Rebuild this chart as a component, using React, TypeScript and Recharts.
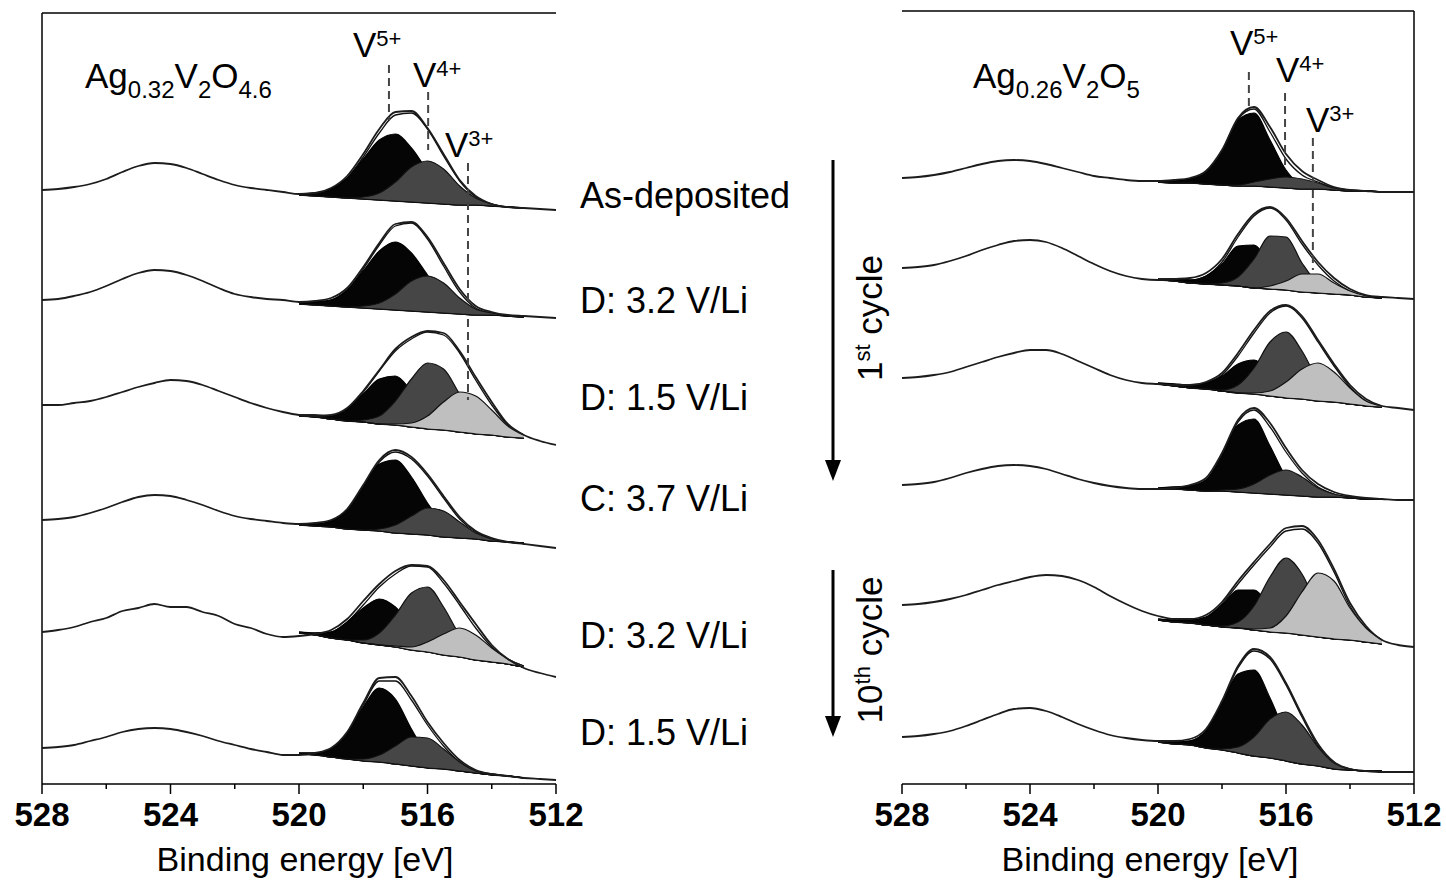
import React from 'react';
import { ComposedChart, Area, Line, XAxis, YAxis, ReferenceLine } from 'recharts';

const FONT = '"Liberation Sans", Arial, Helvetica, sans-serif';

// binding energy grid (eV), plotted high -> low
const ENERGIES = [528, 527.5, 527, 526.5, 526, 525.5, 525, 524.5, 524, 523.5, 523, 522.5, 522, 521.5, 521, 520.5, 520,
  519.5, 519, 518.5, 518, 517.5, 517, 516.5, 516, 515.5, 515, 514.5, 514, 513.5, 513, 512.5, 512];
// grid of the fitted V 2p3/2 region
const FIT_ENERGIES = [520, 519.5, 519, 518.5, 518, 517.5, 517, 516.5, 516, 515.5, 515, 514.5, 514, 513.5, 513];
const AXIS_TICKS = [528, 526, 524, 522, 520, 518, 516, 514, 512];
const MAJOR_TICKS = [528, 524, 520, 516, 512];
const STATES = ['As-deposited', 'D: 3.2 V/Li', 'D: 1.5 V/Li', 'C: 3.7 V/Li', 'D: 3.2 V/Li', 'D: 1.5 V/Li'];

// ---- left panel: Ag0.32V2O4.6 (intensity, a.u.) ----
const LEFT_OFFSETS = [594, 484, 379, 264, 152, 36];
const LEFT_MEASURED = [
  [0, 1, 3, 6, 11, 18, 24, 27, 26, 22, 16, 10, 5, 2, 0, -2, -4, -3, 2, 14, 36, 61, 78, 79, 62, 36, 10, -6, -14, -17, -18, -19, -20],
  [0, 1, 4, 8, 14, 21, 27, 30, 29, 25, 19, 12, 6, 3, 1, 0, -2, -1, 2, 12, 33, 57, 76, 78, 63, 37, 11, -6, -12, -15, -16, -17, -18],
  [0, 0, 2, 4, 8, 13, 18, 22, 25, 24, 20, 14, 8, 2, -3, -7, -10, -11, -10, -3, 14, 35, 56, 68, 74, 72, 54, 28, 3, -19, -30, -36, -40],
  [0, 1, 3, 7, 12, 18, 23, 25, 24, 20, 15, 9, 4, 1, -1, -3, -4, -3, 0, 11, 35, 60, 70, 63, 46, 24, 3, -11, -18, -22, -24, -26, -28],
  [0, 2, 5, 10, 14, 21, 24, 28, 25, 25, 20, 16, 8, 4, -2, -5, -4, -2, 2, 13, 31, 48, 61, 67, 66, 52, 30, 8, -13, -27, -36, -41, -45],
  [0, 1, 3, 7, 11, 16, 19, 20, 19, 16, 12, 7, 3, -1, -4, -7, -7, -5, 0, 16, 45, 70, 71, 52, 26, 5, -12, -22, -26, -28, -30, -31, -32],
];
const LEFT_BG = [
  [-5, -6, -7, -8, -9, -10, -11, -12, -13, -14, -15, -15, -16, -17, -18],
  [-4, -5, -6, -7, -8, -9, -10, -11, -12, -13, -14, -15, -15, -16, -17],
  [-11, -12, -14, -16, -17, -19, -20, -22, -24, -25, -27, -29, -30, -32, -33],
  [-5, -6, -7, -9, -10, -11, -13, -14, -15, -17, -18, -19, -21, -22, -23],
  [-1, -3, -6, -8, -11, -13, -15, -18, -20, -23, -25, -28, -30, -32, -35],
  [-6, -7, -9, -11, -13, -14, -16, -18, -20, -21, -23, -25, -27, -28, -30],
];
const LEFT_V5 = [
  [1, 3, 8, 20, 40, 60, 67, 54, 32, 13, 5, 1, 0, 0, 0],
  [1, 3, 6, 17, 37, 58, 68, 58, 37, 17, 6, 1, 0, 0, 0],
  [1, 2, 3, 12, 28, 45, 49, 36, 18, 6, 1, 0, 0, 0, 0],
  [1, 2, 6, 19, 43, 67, 73, 57, 32, 13, 3, 1, 0, 0, 0],
  [1, 2, 6, 18, 35, 46, 40, 24, 10, 3, 1, 0, 0, 0, 0],
  [1, 2, 8, 26, 54, 74, 65, 37, 13, 3, 0, 0, 0, 0, 0],
];
const LEFT_V4 = [
  [0, 0, 0, 0, 2, 7, 19, 35, 42, 35, 19, 7, 2, 0, 0],
  [0, 0, 0, 0, 2, 6, 16, 30, 36, 30, 16, 6, 2, 0, 0],
  [0, 0, 0, 0, 2, 8, 24, 48, 66, 61, 38, 16, 5, 1, 0],
  [0, 0, 0, 0, 0, 2, 8, 18, 27, 26, 16, 6, 2, 0, 0],
  [0, 0, 0, 0, 3, 12, 32, 57, 65, 48, 22, 7, 1, 0, 0],
  [0, 0, 0, 0, 2, 7, 18, 29, 30, 20, 9, 2, 1, 0, 0],
];
const LEFT_V3 = [
  null,
  null,
  [0, 0, 0, 0, 0, 0, 1, 4, 13, 28, 40, 38, 25, 11, 3],
  null,
  [0, 0, 0, 0, 0, 0, 1, 3, 10, 21, 29, 25, 14, 5, 1],
  null,
];

// ---- right panel: Ag0.26V2O5 (intensity, a.u.) ----
const RIGHT_OFFSETS = [606, 516, 406, 299, 179, 47];
const RIGHT_MEASURED = [
  [0, 1, 3, 6, 10, 14, 17, 18, 17, 14, 10, 6, 2, 0, -2, -3, -3, -2, 0, 7, 28, 60, 71, 51, 24, 7, -2, -9, -12, -13, -14, -14, -14],
  [0, 1, 3, 7, 12, 18, 23, 27, 28, 26, 20, 12, 4, -3, -8, -11, -12, -11, -10, -5, 9, 34, 54, 61, 50, 27, 6, -10, -21, -27, -29, -30, -31],
  [0, 1, 3, 6, 11, 16, 21, 25, 28, 28, 24, 17, 10, 3, -2, -5, -6, -7, -7, -4, 5, 25, 48, 67, 73, 62, 38, 14, -7, -21, -28, -30, -32],
  [0, 1, 3, 7, 12, 16, 19, 20, 19, 16, 11, 6, 2, -1, -3, -4, -4, -3, 0, 7, 32, 65, 77, 62, 37, 15, 1, -7, -11, -13, -14, -15, -15],
  [0, 1, 3, 6, 10, 15, 20, 24, 28, 30, 29, 25, 18, 9, 1, -6, -11, -14, -14, -10, 3, 24, 43, 61, 77, 79, 65, 36, 2, -21, -35, -40, -42],
  [0, 1, 3, 6, 11, 17, 23, 28, 29, 26, 20, 13, 7, 2, -1, -3, -4, -4, -2, 8, 36, 71, 88, 80, 54, 22, -7, -25, -32, -34, -35, -35, -35],
];
const RIGHT_BG = [
  [-4, -5, -5, -6, -7, -8, -8, -9, -10, -11, -11, -12, -13, -13, -14],
  [-12, -13, -15, -16, -17, -18, -20, -21, -22, -24, -25, -26, -27, -29, -30],
  [-6, -8, -10, -11, -13, -15, -16, -18, -20, -21, -23, -24, -26, -28, -29],
  [-4, -4, -5, -6, -6, -7, -8, -9, -10, -11, -12, -12, -13, -14, -14],
  [-15, -17, -18, -20, -22, -23, -25, -27, -28, -30, -32, -34, -35, -37, -39],
  [-5, -7, -8, -11, -13, -16, -19, -21, -24, -27, -29, -32, -33, -34, -34],
];
const RIGHT_V5 = [
  [1, 2, 4, 12, 34, 66, 73, 47, 18, 4, 1, 0, 0, 0, 0],
  [1, 2, 3, 8, 21, 40, 43, 25, 8, 1, 0, 0, 0, 0, 0],
  [1, 2, 3, 6, 15, 29, 34, 24, 10, 3, 0, 0, 0, 0, 0],
  [1, 2, 4, 11, 35, 67, 74, 48, 18, 4, 1, 0, 0, 0, 0],
  [1, 2, 3, 8, 22, 38, 40, 26, 10, 2, 0, 0, 0, 0, 0],
  [1, 2, 4, 17, 46, 79, 86, 60, 27, 8, 1, 0, 0, 0, 0],
];
const RIGHT_V4 = [
  [0, 0, 0, 0, 0, 1, 4, 8, 11, 10, 6, 2, 1, 0, 0],
  [0, 0, 0, 0, 2, 9, 29, 53, 53, 29, 9, 2, 0, 0, 0],
  [0, 0, 0, 0, 1, 8, 26, 54, 66, 48, 21, 6, 1, 0, 0],
  [0, 0, 0, 0, 1, 3, 9, 19, 25, 19, 9, 3, 1, 0, 0],
  [0, 0, 0, 0, 1, 6, 24, 55, 75, 61, 30, 9, 2, 0, 0],
  [0, 0, 0, 0, 1, 6, 19, 39, 49, 39, 19, 6, 1, 0, 0],
];
const RIGHT_V3 = [
  null,
  [0, 0, 0, 0, 0, 0, 0, 3, 9, 18, 19, 11, 4, 1, 0],
  [0, 0, 0, 0, 0, 0, 1, 5, 16, 30, 38, 30, 16, 5, 1],
  null,
  [0, 0, 0, 0, 0, 0, 1, 4, 17, 43, 64, 58, 32, 14, 4],
  null,
];

// dashed guides for V5+, V4+, V3+ (energy, top/bottom in a.u.)
const LEFT_GUIDES = [
  { e: 517.2, top: 719, bottom: 664 },
  { e: 515.98, top: 692, bottom: 634 },
  { e: 514.74, top: 621, bottom: 384 },
];
const RIGHT_GUIDES = [
  { e: 517.16, top: 712, bottom: 674 },
  { e: 516.03, top: 691, bottom: 619 },
  { e: 515.16, top: 646, bottom: 514 },
];

const COLORS = { v5: '#050505', v4: '#464646', v3: '#bfbfbf', line: '#1c1c1c' };

type Spectrum = { offset: number; measured: number[]; bg: number[]; v5: number[]; v4: number[]; v3: number[] | null };

const makeSpectra = (offsets: number[], measured: number[][], bg: number[][], v5: number[][], v4: number[][], v3: (number[] | null)[]): Spectrum[] =>
  offsets.map((offset, i) => ({ offset, measured: measured[i], bg: bg[i], v5: v5[i], v4: v4[i], v3: v3[i] }));

const buildRows = (spectra: Spectrum[]) =>
  ENERGIES.map((e, i) => {
    const row: any = { e };
    const k = FIT_ENERGIES.indexOf(e);
    spectra.forEach((s, j) => {
      row[`m${j}`] = s.offset + s.measured[i];
      if (k >= 0) {
        const base = s.offset + s.bg[k];
        const v3 = s.v3 ? s.v3[k] : 0;
        row[`env${j}`] = [base, base + s.v5[k] + s.v4[k] + v3];
        row[`v5_${j}`] = [base, base + s.v5[k]];
        row[`v4_${j}`] = [base, base + s.v4[k]];
        if (s.v3) row[`v3_${j}`] = [base, base + v3];
      }
    });
    return row;
  });

const AxisTick = (props: any) => {
  const { x, y, payload } = props;
  const major = MAJOR_TICKS.includes(payload.value);
  return (
    <g>
      <line x1={x} x2={x} y1={y} y2={y + (major ? 10 : 5)} stroke="#000" strokeWidth={1.5} />
      {major && (
        <text x={x} y={y + 42} textAnchor="middle" fontSize={33} fontWeight="bold" fontFamily={FONT} fill="#000">
          {payload.value}
        </text>
      )}
    </g>
  );
};

const Panel = ({ spectra, guides, width, top, right, yMax }: { spectra: Spectrum[]; guides: typeof LEFT_GUIDES; width: number; top: number; right: boolean; yMax: number }) => {
  const rows = buildRows(spectra);
  const series = spectra.flatMap((s, j) => {
    const items = [
      <Area key={`env${j}`} dataKey={`env${j}`} type="monotone" fill="#fff" fillOpacity={1} stroke="#111" strokeWidth={1.3} dot={false} activeDot={false} isAnimationActive={false} />,
      <Area key={`v5${j}`} dataKey={`v5_${j}`} type="monotone" fill={COLORS.v5} fillOpacity={1} stroke="#000" strokeWidth={1.2} dot={false} activeDot={false} isAnimationActive={false} />,
      <Area key={`v4${j}`} dataKey={`v4_${j}`} type="monotone" fill={COLORS.v4} fillOpacity={1} stroke="#111" strokeWidth={1.2} dot={false} activeDot={false} isAnimationActive={false} />,
    ];
    if (s.v3) {
      items.push(
        <Area key={`v3${j}`} dataKey={`v3_${j}`} type="monotone" fill={COLORS.v3} fillOpacity={1} stroke="#111" strokeWidth={1.2} dot={false} activeDot={false} isAnimationActive={false} />
      );
    }
    items.push(
      <Line key={`m${j}`} dataKey={`m${j}`} type="monotone" stroke={COLORS.line} strokeWidth={1.8} dot={false} activeDot={false} isAnimationActive={false} />
    );
    return items;
  });

  return (
    <ComposedChart width={width} height={886} data={rows} margin={{ top, right: right ? 32 : 44, bottom: 42, left: 42 }}>
      <XAxis
        dataKey="e"
        type="number"
        domain={[512, 528]}
        reversed
        ticks={AXIS_TICKS}
        interval={0}
        tickLine={false}
        tickSize={0}
        tickMargin={0}
        tick={<AxisTick />}
        axisLine={{ stroke: '#000', strokeWidth: 1.5 }}
        height={60}
        allowDataOverflow
      />
      <YAxis type="number" domain={[0, yMax]} hide allowDataOverflow />
      <ReferenceLine y={yMax} stroke="#000" strokeWidth={1.5} ifOverflow="visible" />
      <ReferenceLine x={right ? 512 : 528} stroke="#000" strokeWidth={1.5} ifOverflow="visible" />
      {series}
      {guides.map((g, i) => (
        <ReferenceLine
          key={`g${i}`}
          segment={[{ x: g.e, y: g.top }, { x: g.e, y: g.bottom }]}
          stroke="#444"
          strokeWidth={2}
          strokeDasharray="8 5"
        />
      ))}
    </ComposedChart>
  );
};

const LEFT = makeSpectra(LEFT_OFFSETS, LEFT_MEASURED, LEFT_BG, LEFT_V5, LEFT_V4, LEFT_V3);
const RIGHT = makeSpectra(RIGHT_OFFSETS, RIGHT_MEASURED, RIGHT_BG, RIGHT_V5, RIGHT_V4, RIGHT_V3);

const STATE_BASELINES = [208, 313, 410, 511, 648, 745];

const Ion = ({ x, y, charge }: { x: number; y: number; charge: string }) => (
  <text x={x} y={y} fontSize={35}>
    V<tspan fontSize={22} dy={-11}>{charge}</tspan>
  </text>
);

export default function App() {
  return (
    <div style={{ position: 'absolute', left: 0, top: 0, width: 1446, height: 886, background: '#fff', fontFamily: FONT }}>
      <div style={{ position: 'absolute', left: 0, top: 0 }}>
        <Panel spectra={LEFT} guides={LEFT_GUIDES} width={600} top={13} right={false} yMax={771} />
      </div>
      <div style={{ position: 'absolute', left: 860, top: 0 }}>
        <Panel spectra={RIGHT} guides={RIGHT_GUIDES} width={586} top={11} right yMax={773} />
      </div>
      <svg width={1446} height={886} style={{ position: 'absolute', left: 0, top: 0, pointerEvents: 'none' }} fontFamily={FONT} fill="#000">
        <text x={85} y={88} fontSize={35}>
          Ag<tspan fontSize={24} dy={10}>0.32</tspan>
          <tspan dy={-10}>V</tspan>
          <tspan fontSize={24} dy={10}>2</tspan>
          <tspan dy={-10}>O</tspan>
          <tspan fontSize={24} dy={10}>4.6</tspan>
        </text>
        <text x={973} y={88} fontSize={35}>
          Ag<tspan fontSize={24} dy={10}>0.26</tspan>
          <tspan dy={-10}>V</tspan>
          <tspan fontSize={24} dy={10}>2</tspan>
          <tspan dy={-10}>O</tspan>
          <tspan fontSize={24} dy={10}>5</tspan>
        </text>

        <Ion x={353} y={57} charge="5+" />
        <Ion x={413} y={87} charge="4+" />
        <Ion x={445} y={157} charge="3+" />
        <Ion x={1230} y={55} charge="5+" />
        <Ion x={1276} y={82} charge="4+" />
        <Ion x={1306} y={132} charge="3+" />

        {STATES.map((s, i) => (
          <text key={i} x={580} y={STATE_BASELINES[i]} fontSize={36}>
            {s}
          </text>
        ))}

        <line x1={833} y1={160} x2={833} y2={462} stroke="#000" strokeWidth={3} />
        <polygon points="825,460 841,460 833,481" fill="#000" />
        <line x1={833} y1={570} x2={833} y2={718} stroke="#000" strokeWidth={3} />
        <polygon points="825,716 841,716 833,737" fill="#000" />

        <text transform="translate(882,318) rotate(-90)" textAnchor="middle" fontSize={35}>
          1<tspan fontSize={22} dy={-12}>st</tspan>
          <tspan dy={12}> cycle</tspan>
        </text>
        <text transform="translate(882,650) rotate(-90)" textAnchor="middle" fontSize={35}>
          10<tspan fontSize={22} dy={-12}>th</tspan>
          <tspan dy={12}> cycle</tspan>
        </text>

        <text x={305} y={871} textAnchor="middle" fontSize={34}>Binding energy [eV]</text>
        <text x={1150} y={871} textAnchor="middle" fontSize={34}>Binding energy [eV]</text>
      </svg>
    </div>
  );
}
